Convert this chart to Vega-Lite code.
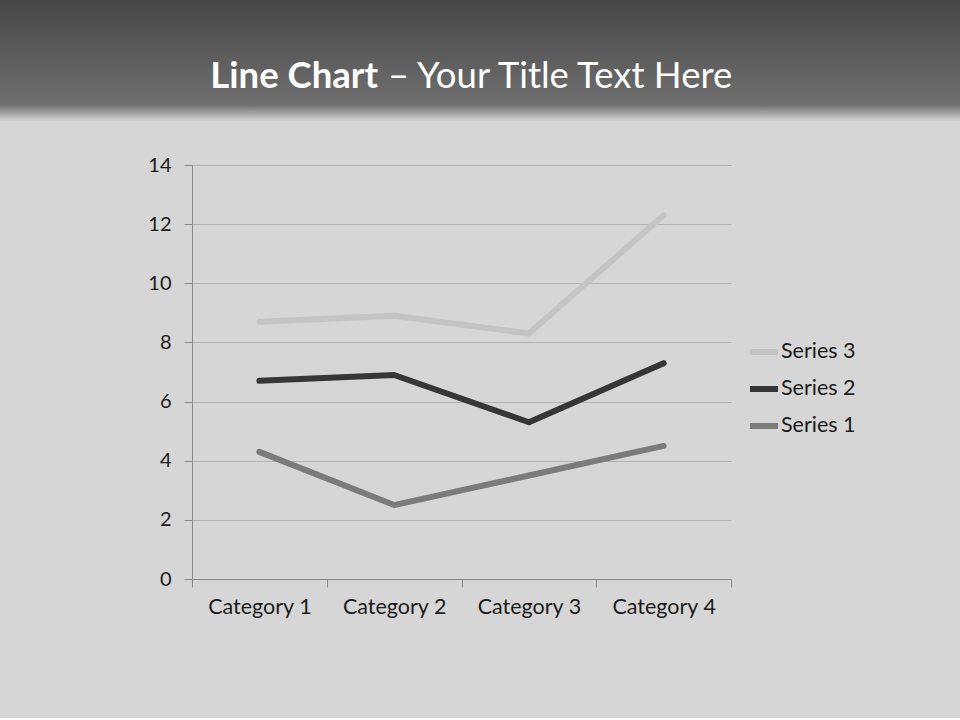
{
  "$schema": "https://vega.github.io/schema/vega-lite/v6.json",
  "background": "#d6d6d6",
  "padding": {"left": 0, "top": 0, "right": 0, "bottom": 100},
  "spacing": 33,
  "config": {"view": {"stroke": null}, "font": "Lato"},
  "vconcat": [
    {
      "width": 960,
      "height": 122,
      "data": {"values": [{"bold": "Line Chart", "rest": "– Your Title Text Here"}]},
      "layer": [
        {
          "mark": {"type": "rect", "color": {"gradient": "linear", "x1": 0, "y1": 0, "x2": 0, "y2": 1,
            "stops": [{"offset": 0, "color": "#474747"}, {"offset": 0.86, "color": "#6f6f6f"}, {"offset": 1, "color": "#d9d9d9"}]}},
          "encoding": {}
        },
        {
          "mark": {"type": "text", "align": "right", "baseline": "alphabetic", "dx": -102, "dy": 27, "font": "Lato", "fontSize": 36.5, "fontWeight": "bold", "color": "#ffffff"},
          "encoding": {"text": {"field": "bold"}}
        },
        {
          "mark": {"type": "text", "align": "left", "baseline": "alphabetic", "dx": -92, "dy": 27, "font": "Lato", "fontSize": 36.5, "fontWeight": "normal", "color": "#ffffff"},
          "encoding": {"text": {"field": "rest"}}
        }
      ]
    },
    {
      "spacing": 0,
      "hconcat": [
        {
          "width": 1,
          "height": 414,
          "data": {"values": []},
          "mark": "point"
        },
        {
          "width": 539,
          "height": 414,
          "data": {"values": [
            {"category": "Category 1", "series": "Series 1", "value": 4.3},
            {"category": "Category 2", "series": "Series 1", "value": 2.5},
            {"category": "Category 3", "series": "Series 1", "value": 3.5},
            {"category": "Category 4", "series": "Series 1", "value": 4.5},
            {"category": "Category 1", "series": "Series 2", "value": 6.7},
            {"category": "Category 2", "series": "Series 2", "value": 6.9},
            {"category": "Category 3", "series": "Series 2", "value": 5.3},
            {"category": "Category 4", "series": "Series 2", "value": 7.3},
            {"category": "Category 1", "series": "Series 3", "value": 8.7},
            {"category": "Category 2", "series": "Series 3", "value": 8.9},
            {"category": "Category 3", "series": "Series 3", "value": 8.3},
            {"category": "Category 4", "series": "Series 3", "value": 12.3}
          ]},
          "mark": {"type": "line", "strokeWidth": 6, "strokeCap": "round", "strokeJoin": "round"},
          "encoding": {
            "x": {
              "field": "category", "type": "nominal",
              "scale": {"type": "band", "paddingInner": 0, "paddingOuter": 0},
              "axis": {"title": null, "labelAngle": 0, "tickBand": "extent", "grid": false,
                "domainColor": "#8a8a8a", "tickColor": "#8a8a8a", "tickSize": 8,
                "labelFont": "Lato", "labelFontSize": 21.5, "labelColor": "#1a1a1a", "labelPadding": 9}
            },
            "y": {
              "field": "value", "type": "quantitative",
              "scale": {"domain": [0, 14], "nice": false},
              "axis": {"title": null, "values": [0, 2, 4, 6, 8, 10, 12, 14], "grid": true, "gridColor": "#b3b3b3",
                "domainColor": "#8a8a8a", "tickColor": "#8a8a8a", "tickSize": 8, "labelPadding": 13,
                "minExtent": 191, "maxExtent": 200,
                "labelFont": "Lato", "labelFontSize": 20, "labelColor": "#1a1a1a"}
            },
            "color": {
              "field": "series", "type": "nominal",
              "scale": {"domain": ["Series 3", "Series 2", "Series 1"], "range": ["#c4c4c4", "#363636", "#7b7b7b"]},
              "legend": {"title": null, "orient": "none", "legendX": 747, "legendY": 335,
                "symbolType": "stroke", "symbolStrokeWidth": 6, "symbolSize": 784,
                "labelFont": "Lato", "labelFontSize": 21.5, "labelColor": "#1a1a1a", "rowPadding": 8, "labelOffset": 0}
            }
          }
        }
      ]
    }
  ]
}
